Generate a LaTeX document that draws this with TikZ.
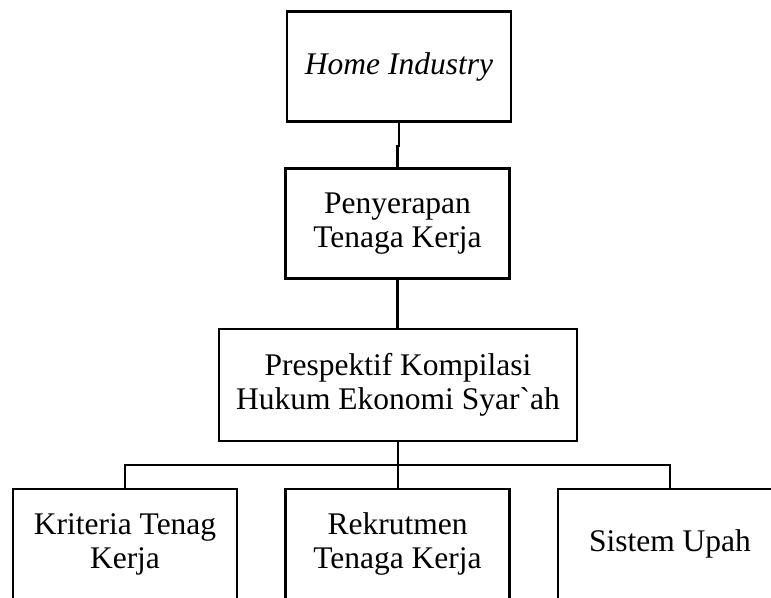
\documentclass[tikz,border=0pt]{standalone}
\usepackage{fontspec}
\setmainfont{Liberation Serif}
\usepackage{tikz}
\usetikzlibrary{positioning,calc}
\tikzset{
  box/.style  ={rectangle, draw=black, line width=2.2pt, align=center,
                minimum width=224pt, minimum height=110pt,
                font=\fontsize{31.5}{34}\selectfont},
  wide/.style ={box, minimum width=358pt, minimum height=112pt},
  link/.style ={line width=2.2pt},
}

\begin{document}
\begin{tikzpicture}[x=1pt, y=-1pt]
    \useasboundingbox (0,0) rectangle (771,597);

    % upper chain
    \node[box] (home) at (399,66.5) {\textit{Home Industry}};
    \node[box] (serap) at (397.5,223.5) {Penyerapan\\Tenaga Kerja};
    \node[wide] (khes) at (398,385) {Prespektif Kompilasi\\Hukum Ekonomi Syar\textasciigrave ah};

    % lower row (cut off at the bottom edge)
    \node[box] (kriteria) at (125,544) {Kriteria Tenag\\Kerja};
    \node[box] (rekrut) at (397.5,544) {Rekrutmen\\Tenaga Kerja};
    \node[box] (upah) at (670,544) {Sistem Upah};

    % connectors
    \draw[link] (home.south) -- ++(0,23) -| (serap.north);
    \draw[link] (serap.south) -- (serap.south |- khes.north);
    \draw[link] (khes.south) -- (khes.south |- rekrut.north);
    \draw[link] (kriteria.north) -- ++(0,-23) -| (upah.north);
  \end{tikzpicture}
\end{document}
